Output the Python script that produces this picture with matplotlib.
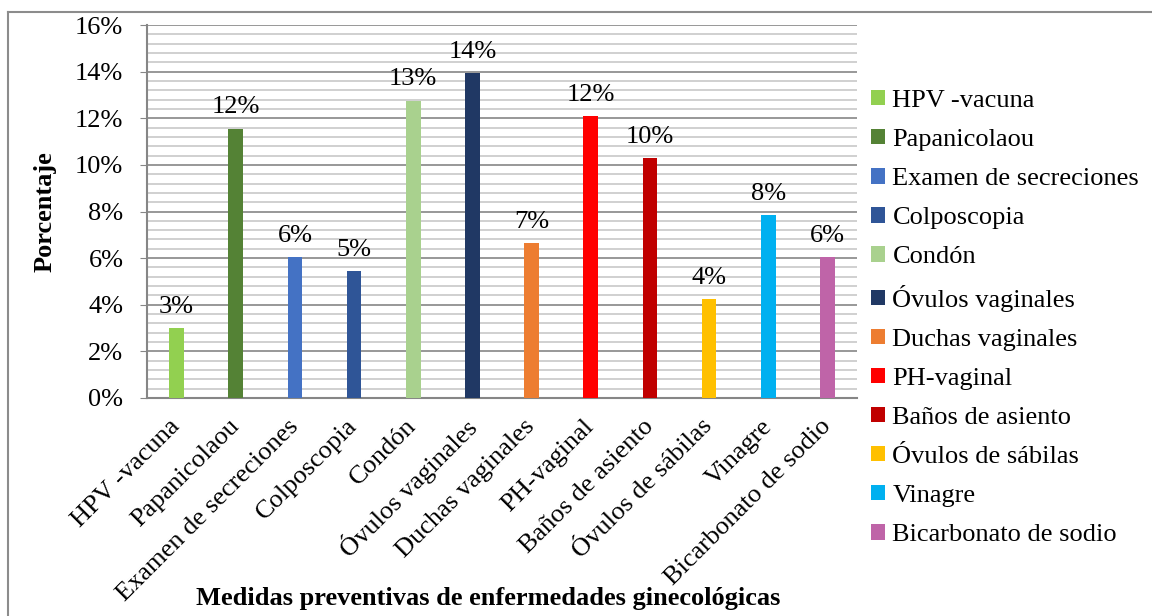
import matplotlib
matplotlib.use("Agg")
import matplotlib.pyplot as plt
from matplotlib.ticker import MultipleLocator, FuncFormatter
from matplotlib.patches import Patch
from matplotlib.lines import Line2D

plt.rcParams['font.family'] = ['Liberation Serif', 'DejaVu Serif']

categorias = ["HPV -vacuna", "Papanicolaou", "Examen de secreciones", "Colposcopia",
              "Condón", "Óvulos vaginales", "Duchas vaginales", "PH-vaginal",
              "Baños de asiento", "Óvulos de sábilas", "Vinagre", "Bicarbonato de sodio"]
porcentajes = [3.0, 11.55, 6.05, 5.45, 12.75, 13.95, 6.65, 12.1, 10.3, 4.25, 7.85, 6.05]
colores = ["#92D050", "#548235", "#4472C4", "#2F5597", "#A9D18E", "#203864",
           "#ED7D31", "#FF0000", "#C00000", "#FFC000", "#00B0F0", "#BF64A8"]

fig = plt.figure(figsize=(11.52, 6.16), dpi=100)
ax = fig.add_axes([147/1152, 1-398/616, (857-147)/1152, (398-25)/616])

x = range(len(categorias))
bars = ax.bar(x, porcentajes, width=0.25, color=colores, zorder=3)

for b, v in zip(bars, porcentajes):
    ax.annotate(f"{v:.0f}%", (b.get_x() + b.get_width()/2, v), xytext=(0, 11),
                textcoords="offset points", ha="center", va="baseline", fontsize=19)

ax.set_xlim(-0.5, len(categorias) - 0.5)
ax.set_ylim(0, 16)
ax.yaxis.set_major_locator(MultipleLocator(2))
ax.yaxis.set_minor_locator(MultipleLocator(0.4))
ax.yaxis.set_major_formatter(FuncFormatter(lambda v, p: f"{v:.0f}%"))
ax.grid(axis="y", which="major", color="#868686", lw=1.2, zorder=0)
ax.grid(axis="y", which="minor", color="#c8c8c8", lw=1.2, zorder=0)
ax.tick_params(axis="y", which="major", length=5, color="#868686", labelsize=19, pad=12)
ax.tick_params(axis="y", which="minor", length=0)
ax.tick_params(axis="x", length=0, labelsize=19, pad=18)

ax.set_xticks(list(x))
ax.set_xticklabels(categorias, rotation=45, ha="right", va="center", rotation_mode="anchor")

for s in ["top", "right"]:
    ax.spines[s].set_visible(False)
for s in ["left", "bottom"]:
    ax.spines[s].set_color("#868686")
    ax.spines[s].set_linewidth(1.5)

fig.text(45/1152, 1-212/616, "Porcentaje", rotation=90, ha="center", va="center",
         fontsize=19, fontweight="bold")
fig.text(488/1152, 1-598/616, "Medidas preventivas de enfermedades ginecológicas",
         ha="center", va="center", fontsize=19, fontweight="bold")

handles = [Patch(facecolor=c, edgecolor="none") for c in colores]
fig.legend(handles, categorias, loc="center left", bbox_to_anchor=(871/1152, 1-318/616),
           frameon=False, fontsize=19, borderpad=0, borderaxespad=0,
           handlelength=0.53, handleheight=0.53, handletextpad=0.28, labelspacing=0.64)

# marco exterior
fig.add_artist(Line2D([7.5/1152, 7.5/1152], [0, 1-12/616], transform=fig.transFigure,
                      color="#8c8c8c", lw=1.5))
fig.add_artist(Line2D([7.5/1152, 1], [1-12/616, 1-12/616], transform=fig.transFigure,
                      color="#8c8c8c", lw=1.5))

fig.savefig("out.png", dpi=100)
